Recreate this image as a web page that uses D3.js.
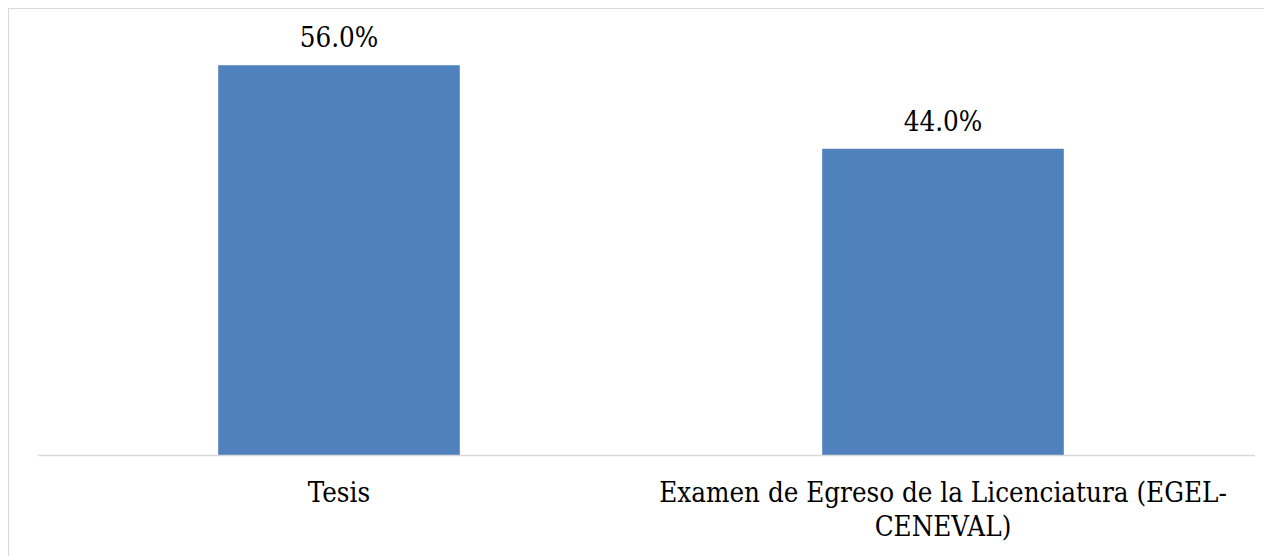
<!DOCTYPE html>
<html>
<head>
<meta charset="utf-8">
<script src="https://cdn.jsdelivr.net/npm/d3@7"></script>
<style>
  html, body { margin: 0; padding: 0; background: #fff; }
  svg { display: block; }
  text { font-family: "DejaVu Serif Condensed", "DejaVu Serif", serif; font-stretch: condensed; fill: #000; }
</style>
</head>
<body>
<div id="chart"></div>
<script>
// chart data
const categories = ['Tesis', 'Examen de Egreso de la Licenciatura (EGEL-CENEVAL)'];
const percentValues = [56.0, 44.0];

const width = 1264;
const height = 556;
const baseY = 455;
const fontSize = '27.5px';

const svg = d3.select('#chart')
    .append('svg')
    .attr('width', width)
    .attr('height', height);

// chart border (cropped on right and bottom)
svg.append('rect')
    .attr('x', 8.5)
    .attr('y', 8.5)
    .attr('width', 1275)
    .attr('height', 570)
    .attr('fill', '#fff')
    .attr('stroke', '#d9d9d9')
    .attr('stroke-width', 1);

const x = d3.scaleBand()
    .domain(categories)
    .range([37, 1245])
    .paddingInner(0.6)
    .paddingOuter(0.3);

const y = d3.scaleLinear()
    .domain([0, 60])
    .range([baseY, baseY - 60 * 6.96]);

const data = categories.map((c, i) => ({ name: c, value: percentValues[i] }));

// bars
svg.selectAll('rect.bar')
    .data(data)
    .enter()
    .append('rect')
    .attr('class', 'bar')
    .attr('x', d => x(d.name))
    .attr('y', d => y(d.value))
    .attr('width', x.bandwidth())
    .attr('height', d => y(0) - y(d.value))
    .attr('fill', '#4f81bd');

// baseline
svg.append('line')
    .attr('x1', 38)
    .attr('x2', 1255)
    .attr('y1', y(0) + 0.5)
    .attr('y2', y(0) + 0.5)
    .attr('stroke', '#d9d9d9')
    .attr('stroke-width', 1.5);

// value labels
svg.selectAll('text.value')
    .data(data)
    .enter()
    .append('text')
    .attr('class', 'value')
    .attr('x', d => x(d.name) + x.bandwidth() / 2)
    .attr('y', d => y(d.value) - 18)
    .attr('text-anchor', 'middle')
    .style('font-size', fontSize)
    .text(d => d.value.toFixed(1) + '%');

// category labels, wrapped like the original
const maxLabelWidth = 590;
svg.selectAll('text.cat')
    .data(categories)
    .enter()
    .append('text')
    .attr('class', 'cat')
    .attr('x', d => x(d) + x.bandwidth() / 2)
    .attr('y', 502)
    .attr('text-anchor', 'middle')
    .style('font-size', fontSize)
    .each(function (d) {
        const el = d3.select(this);
        const cx = x(d) + x.bandwidth() / 2;
        const tokens = d.split(/(?<=[\s-])/);
        let line = '';
        let tspan = el.append('tspan').attr('x', cx).attr('dy', 0);
        tokens.forEach(tok => {
            const test = line + tok;
            tspan.text(test.trim());
            if (tspan.node().getComputedTextLength() > maxLabelWidth && line) {
                tspan.text(line.trim());
                line = tok;
                tspan = el.append('tspan').attr('x', cx).attr('dy', 34).text(tok.trim());
            } else {
                line = test;
            }
        });
    });
</script>
</body>
</html>
